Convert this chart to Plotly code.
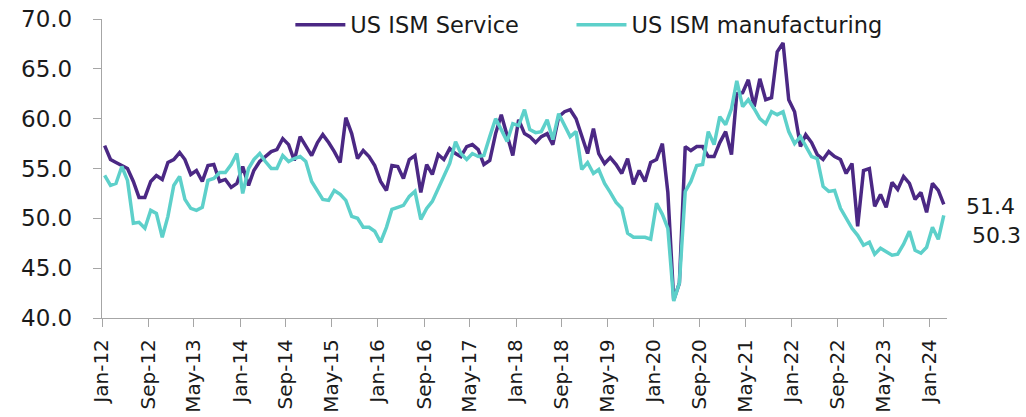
import pandas as pd
import plotly.graph_objects as go

start_month = "2012-01-01"
series_names = ["US ISM Service", "US ISM manufacturing"]

services = [
    57.3, 55.9, 55.6, 55.3, 55.0, 53.7, 52.1, 52.1, 53.7, 54.3, 53.9, 55.6,
    55.9, 56.6, 55.9, 54.4, 54.8, 53.7, 55.3, 55.4, 53.7, 53.9, 53.1, 53.5,
    55.2, 53.3, 54.8, 55.7, 56.2, 56.7, 56.9, 58.0, 57.4, 55.8, 58.2, 57.2,
    56.3, 57.6, 58.4, 57.6, 56.7, 55.6, 60.1, 58.5, 56.0, 56.8, 56.2, 55.3,
    53.7, 52.8, 55.3, 55.2, 54.0, 55.9, 56.3, 52.6, 55.4, 54.4, 56.4, 55.9,
    57.0, 56.5, 56.2, 57.2, 57.4, 56.9, 55.4, 55.8, 58.5, 60.4, 58.3, 56.3,
    59.9, 58.5, 58.2, 57.6, 58.2, 58.5, 57.4, 60.2, 60.7, 60.9, 60.0, 58.2,
    56.5, 59.0, 56.5, 55.5, 56.1, 55.4, 54.5, 56.0, 53.4, 54.8, 53.7, 55.6,
    55.9, 57.5, 52.6, 41.8, 43.5, 57.2, 56.8, 57.2, 57.2, 56.2, 56.2, 57.6,
    58.7, 56.4, 62.5, 62.6, 63.9, 61.2, 64.0, 61.9, 62.1, 66.7, 67.6, 61.9,
    60.7, 57.2, 58.4, 57.6, 56.4, 55.9, 56.7, 56.2, 55.9, 54.5, 55.5, 49.2,
    54.8, 55.0, 51.2, 52.4, 51.1, 53.6, 52.9, 54.2, 53.5, 51.9, 52.6, 50.6,
    53.5, 52.8, 51.4,
]

manufacturing = [
    54.3, 53.3, 53.5, 55.2, 53.8, 49.5, 49.6, 49.0, 50.8, 50.5, 48.1, 50.2,
    53.3, 54.2, 51.9, 51.0, 50.8, 51.1, 53.8, 54.0, 54.6, 54.6, 55.4, 56.5,
    52.5, 55.0, 55.9, 56.5, 55.7, 55.0, 55.0, 56.3, 55.7, 56.0, 56.2, 55.7,
    53.7, 52.8, 51.9, 51.8, 52.8, 52.4, 51.8, 50.2, 50.0, 49.1, 49.1, 48.7,
    47.6, 49.1, 50.9, 51.1, 51.3, 52.2, 52.7, 49.9, 51.0, 51.7, 53.0, 54.2,
    55.5, 57.7, 56.5, 55.9, 56.5, 56.2, 56.3, 58.2, 60.0, 58.9, 57.7, 59.5,
    59.3, 60.9, 58.9, 58.6, 58.7, 59.9, 57.9, 60.5, 59.3, 58.2, 58.7, 54.9,
    55.6, 54.5, 54.9, 53.5, 52.6, 51.6, 51.0, 48.5, 48.1, 48.1, 48.1, 47.9,
    51.5, 50.4, 49.0, 41.7, 43.5, 52.7, 53.7, 55.3, 55.4, 58.7, 57.4, 60.2,
    59.4, 61.0, 63.8, 61.2, 61.9, 61.0, 60.0, 59.5, 60.7, 60.4, 60.7, 58.7,
    57.5, 58.2, 57.2, 56.2, 56.0, 53.2, 52.7, 52.8, 51.0, 50.0, 49.0, 48.3,
    47.3, 47.6, 46.4, 47.0, 46.7, 46.3, 46.4, 47.4, 48.7, 46.8, 46.5, 47.1,
    49.1, 47.9, 50.3,
]

colors = ["#4B2884", "#5DD0CA"]
FONT = "DejaVu Sans"

months = pd.date_range(start_month, periods=len(services), freq="MS") + pd.Timedelta(days=14)
x_end = pd.date_range(start_month, periods=len(services) + 1, freq="MS")[-1]

fig = go.Figure()
for name, vals, col, lg in zip(series_names, [services, manufacturing], colors, ["legend", "legend2"]):
    fig.add_trace(go.Scatter(x=months, y=vals, mode="lines", name=name, legend=lg,
                             line=dict(color=col, width=3.5)))

fig.add_annotation(x=1, xref="paper", y=services[-1], yref="y", text=f"{services[-1]:.1f}",
                   showarrow=False, xanchor="left", xshift=17, yshift=-2,
                   font=dict(family=FONT, size=22, color="#1a1a1a"))
fig.add_annotation(x=1, xref="paper", y=manufacturing[-1], yref="y", text=f"{manufacturing[-1]:.1f}",
                   showarrow=False, xanchor="left", xshift=23, yshift=-20,
                   font=dict(family=FONT, size=22, color="#1a1a1a"))

axis_col = "#A6A6A6"
legend_style = dict(orientation="h", xref="container", xanchor="left",
                    yref="container", y=0.94, yanchor="middle",
                    font=dict(family=FONT, size=22.5, color="#1a1a1a"),
                    bgcolor="rgba(0,0,0,0)", itemwidth=50, tracegroupgap=0)
fig.update_layout(
    width=1026, height=417,
    margin=dict(l=102, r=79, t=19, b=99, autoexpand=False),
    paper_bgcolor="white", plot_bgcolor="white",
    font=dict(family=FONT, size=22, color="#1a1a1a"),
    showlegend=True,
    legend=dict(x=0.283, **legend_style),
    legend2=dict(x=0.557, **legend_style),
)
fig.update_xaxes(
    type="date", range=[start_month, x_end], automargin=False,
    tickmode="linear", tick0=start_month, dtick="M8", tickformat="%b-%y",
    tickangle=-90, showgrid=False, zeroline=False,
    showline=True, linecolor=axis_col, linewidth=1.3,
    ticks="outside", ticklen=8, tickcolor=axis_col, tickwidth=1.3,
    tickfont=dict(family=FONT, size=20, color="#1a1a1a"),
    ticklabelstandoff=4, ticklabeloverflow="allow",
)
fig.update_yaxes(
    range=[40, 70], dtick=5, tickformat=".1f", showgrid=False, zeroline=False,
    automargin=False,
    showline=True, linecolor=axis_col, linewidth=1.3,
    ticks="outside", ticklen=8, tickcolor=axis_col, tickwidth=1.3,
    tickfont=dict(family=FONT, size=23, color="#1a1a1a"),
    ticklabelstandoff=16, ticklabeloverflow="allow",
)

# Remove the browser's default 8px body margin so the figure fills the window exactly.
fig.write_html("out.html", config={"displayModeBar": False},
               post_script="document.body.style.margin='0';")
